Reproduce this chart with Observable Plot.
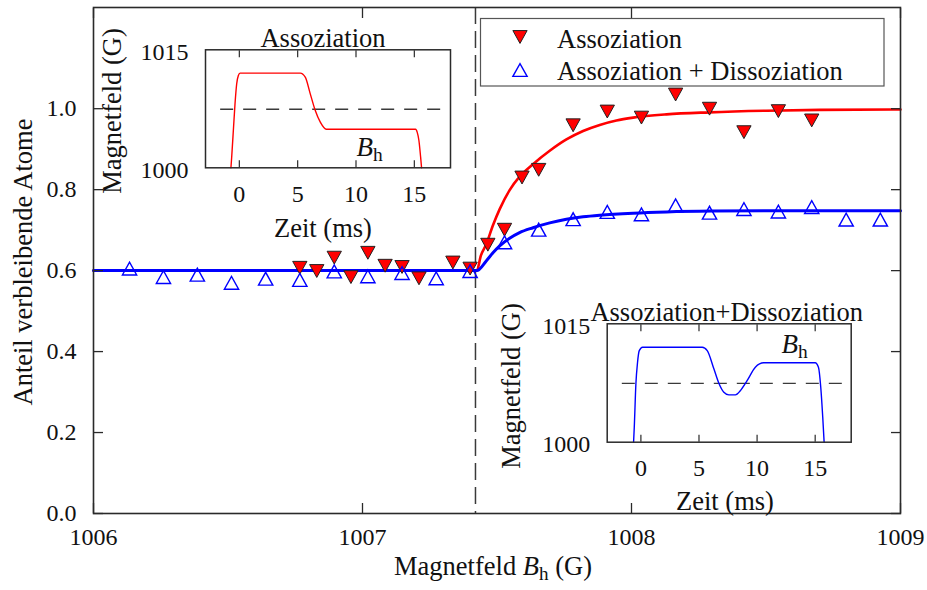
<!DOCTYPE html>
<html><head><meta charset="utf-8">
<script src="https://cdn.jsdelivr.net/npm/d3@7"></script>
<script src="https://cdn.jsdelivr.net/npm/@observablehq/plot@0.6"></script>
<style>
body{margin:0;background:#fff;}
#wrap{position:relative;width:927px;height:590px;overflow:hidden;}
#wrap svg{position:absolute;left:0;top:0;}
</style></head><body><div id="wrap"></div>
<script>
// ---------- data ----------
const xTicks = [1006, 1007, 1008, 1009];
const yTicks = [0, 0.2, 0.4, 0.6, 0.8, 1.0];
const mainDashB = [1007.42];

const redB = [1006.767, 1006.83, 1006.895, 1006.957, 1007.02, 1007.084, 1007.147, 1007.21, 1007.336, 1007.40,
  1007.466, 1007.528, 1007.593, 1007.655, 1007.783, 1007.91, 1008.037, 1008.164, 1008.29, 1008.418, 1008.546, 1008.67];
const redV = [0.607, 0.599, 0.632, 0.584, 0.644, 0.612, 0.609, 0.581, 0.620, 0.605,
  0.664, 0.701, 0.830, 0.849, 0.959, 0.993, 0.978, 1.035, 1.000, 0.942, 0.994, 0.971];

const blueB = [1006.134, 1006.26, 1006.386, 1006.513, 1006.64, 1006.767, 1006.895, 1007.02, 1007.147, 1007.274, 1007.40,
  1007.528, 1007.655, 1007.783, 1007.91, 1008.037, 1008.164, 1008.29, 1008.418, 1008.546, 1008.67, 1008.798, 1008.925];
const blueV = [0.605, 0.584, 0.590, 0.570, 0.580, 0.577, 0.598, 0.586, 0.594, 0.581, 0.599,
  0.670, 0.701, 0.727, 0.745, 0.739, 0.761, 0.743, 0.752, 0.746, 0.757, 0.726, 0.726];

const redFitB = [1006, 1007.425, 1007.44, 1007.46, 1007.485, 1007.51, 1007.547, 1007.584, 1007.634, 1007.696,
  1007.758, 1007.82, 1007.882, 1007.944, 1008.006, 1008.13, 1008.29, 1008.5, 1008.7, 1009];
const redFitV = [0.6, 0.6, 0.637, 0.665, 0.712, 0.752, 0.799, 0.832, 0.863, 0.896,
  0.924, 0.945, 0.96, 0.971, 0.978, 0.986, 0.991, 0.995, 0.997, 0.998];

const blueFitB = [1006, 1007.425, 1007.46, 1007.485, 1007.51, 1007.547, 1007.584, 1007.634, 1007.696, 1007.758,
  1007.82, 1007.882, 1008.006, 1008.13, 1008.3, 1008.6, 1009];
const blueFitV = [0.6, 0.6, 0.624, 0.644, 0.661, 0.68, 0.694, 0.706, 0.718, 0.727,
  0.733, 0.737, 0.742, 0.745, 0.747, 0.748, 0.748];

// insets
const tTicks = [0, 5, 10, 15];
const fieldTicks = [1000, 1015];
const insetResonance = [1007.45];
const dashT = [-1.6, 18.1];

const assT = [-0.72, -0.656, -0.513, -0.37, -0.226, -0.083, 0.06, 5.22, 5.65, 6.08, 6.51, 6.94, 7.45, 15.11, 15.25, 15.39, 15.54, 15.62];
const assF = [1000, 1001.35, 1004.74, 1008.14, 1010.68, 1011.73, 1012.03, 1012.03, 1011.52, 1009.4, 1007.28, 1005.8, 1004.91, 1004.91, 1004.5, 1003.5, 1001.35, 1000];

const adT = [-0.63, -0.57, -0.43, -0.29, -0.14, 0.14, 5.28, 5.71, 6.28, 6.71, 7.14, 7.57, 8.14, 8.57, 9.14, 9.85, 10.57, 15.0, 15.28, 15.48, 15.65, 15.77];
const adF = [1000, 1001.9, 1007.4, 1010.1, 1011.6, 1012.03, 1012.03, 1011.6, 1009.3, 1007.47, 1006.33, 1006.0, 1006.0, 1006.55, 1007.8, 1009.5, 1010.06, 1010.06, 1009.5, 1006.97, 1003.2, 1000];

// ---------- tables ----------
const zip = (a, b, ka, kb) => a.map((v, i) => ({[ka]: v, [kb]: b[i]}));
const redPts = zip(redB, redV, "b", "v");
const bluePts = zip(blueB, blueV, "b", "v");
const redFit = zip(redFitB, redFitV, "b", "v");
const blueFit = zip(blueFitB, blueFitV, "b", "v");
const assLine = zip(assT, assF, "t", "f");
const adLine = zip(adT, adF, "t", "f");
const dashRows = insetResonance.map(f => ({f, t1: dashT[0], t2: dashT[1]}));

// ---------- symbols ----------
function tri(down) {
  return {draw(ctx, size) {
    const s = Math.sqrt(4 * size / Math.sqrt(3));
    const h = s * 0.9;
    const yb = down ? -h / 2 : h / 2;
    ctx.moveTo(-s / 2, yb); ctx.lineTo(s / 2, yb); ctx.lineTo(0, -yb); ctx.closePath();
  }};
}
const triDown = tri(true), triUp = tri(false);
const R = 5.3;

const W = 927, H = 590;
const FONT = '"Liberation Serif", "Times New Roman", serif';
const INK = "#111";
const FR = "#2a2a2a";
const fmtInt = d3.format("d");

// ---------- main plot ----------
const main = Plot.plot({
  width: W, height: H,
  marginLeft: 93, marginRight: 27, marginTop: 7, marginBottom: 77,
  style: {fontFamily: FONT, fontSize: "24px", color: INK, background: "white"},
  x: {domain: [1006, 1009], axis: null, label: null},
  y: {domain: [0, 1.25], axis: null, label: null},
  marks: [
    Plot.ruleX(mainDashB, {stroke: "#3a3a3a", strokeWidth: 1.5, strokeDasharray: "17,7"}),
    Plot.line(redFit, {x: "b", y: "v", stroke: "#ff0000", strokeWidth: 2.6, curve: "monotone-x"}),
    Plot.line(blueFit, {x: "b", y: "v", stroke: "#0000ff", strokeWidth: 3, curve: "monotone-x"}),
    Plot.dot(redPts, {x: "b", y: "v", r: R, symbol: triDown, fill: "#ff0000", stroke: "#222", strokeWidth: 1}),
    Plot.dot(bluePts, {x: "b", y: "v", r: R, symbol: triUp, fill: "none", stroke: "#0000ff", strokeWidth: 1.4}),
    Plot.frame({stroke: FR, strokeWidth: 1.6}),
    Plot.axisX({ticks: xTicks, anchor: "bottom", tickSize: 10, dy: -10, tickFormat: () => "", label: null, stroke: FR, strokeWidth: 1.3}),
    Plot.axisX({ticks: xTicks, anchor: "top", tickSize: 10, dy: 10, tickFormat: () => "", label: null, stroke: FR, strokeWidth: 1.3}),
    Plot.axisX({ticks: xTicks, anchor: "bottom", tickSize: 0, tickPadding: 14, tickFormat: fmtInt, label: null}),
    Plot.axisY({ticks: yTicks, anchor: "left", tickSize: 10, dx: 10, tickFormat: () => "", label: null, stroke: FR, strokeWidth: 1.3}),
    Plot.axisY({ticks: yTicks, anchor: "right", tickSize: 10, dx: -10, tickFormat: () => "", label: null, stroke: FR, strokeWidth: 1.3}),
    Plot.axisY({ticks: yTicks, anchor: "left", tickSize: 0, tickPadding: 17, tickFormat: d3.format(".1f"), label: null})
  ]
});

function insetPlot(frame, line, color) {
  const [l, t, r, b] = frame;
  return Plot.plot({
    width: W, height: H,
    marginLeft: l, marginRight: W - r, marginTop: t, marginBottom: H - b,
    style: {fontFamily: FONT, fontSize: "24px", color: INK, background: "transparent"},
    x: {domain: [-2.9, 18.1], axis: null, label: null},
    y: {domain: [1000, 1015], axis: null, label: null},
    marks: [
      Plot.ruleY(dashRows, {y: "f", x1: "t1", x2: "t2", stroke: "#3a3a3a", strokeWidth: 1.4, strokeDasharray: "13,10"}),
      Plot.line(line, {x: "t", y: "f", stroke: color, strokeWidth: 1.4, curve: "monotone-x"}),
      Plot.frame({stroke: FR, strokeWidth: 1.5}),
      Plot.axisX({ticks: tTicks, anchor: "bottom", tickSize: 7, dy: -7, tickFormat: () => "", label: null, stroke: FR, strokeWidth: 1.2}),
      Plot.axisX({ticks: tTicks, anchor: "top", tickSize: 7, dy: 7, tickFormat: () => "", label: null, stroke: FR, strokeWidth: 1.2}),
      Plot.axisX({ticks: tTicks, anchor: "bottom", tickSize: 0, tickPadding: 17, tickFormat: fmtInt, label: null}),
      Plot.axisY({ticks: fieldTicks, anchor: "left", tickSize: 0, tickPadding: 17, dy: 2.5, tickFormat: fmtInt, label: null})
    ]
  });
}
const in1 = insetPlot([205, 49.3, 450, 167.3], assLine, "#ff0000");
const in2 = insetPlot([606.7, 323.3, 850.7, 441.7], adLine, "#0000ff");

const wrap = document.getElementById("wrap");
wrap.append(main, in1, in2);

// ---------- text & legend ----------
const LF = 26.5;
function txt(svg, x, y, s, opts = {}) {
  const t = d3.select(svg).append("text")
    .attr("x", x).attr("y", y)
    .attr("text-anchor", opts.anchor || "middle")
    .attr("font-family", FONT).attr("font-size", opts.size || LF).attr("fill", INK);
  if (opts.rotate) t.attr("transform", `rotate(-90, ${x}, ${y})`);
  t.text(s);
  return t;
}
function bh(svg, x, y, size) {
  const t = d3.select(svg).append("text").attr("x", x).attr("y", y)
    .attr("text-anchor", "start")
    .attr("font-family", FONT).attr("font-size", size).attr("fill", INK);
  t.append("tspan").attr("font-style", "italic").text("B");
  t.append("tspan").attr("font-size", size * 0.72).attr("dy", size * 0.18).text("h");
  return t;
}

// main labels
txt(main, 32, 262, "Anteil verbleibende Atome", {rotate: true});
{
  const t = d3.select(main).append("text").attr("x", 493).attr("y", 575)
    .attr("text-anchor", "middle").attr("font-family", FONT).attr("font-size", LF).attr("fill", INK);
  t.append("tspan").text("Magnetfeld ");
  t.append("tspan").attr("font-style", "italic").text("B");
  t.append("tspan").attr("font-size", LF * 0.72).attr("dy", LF * 0.18).text("h");
  t.append("tspan").attr("dy", -LF * 0.18).text(" (G)");
}

// legend
{
  const g = d3.select(main).append("g");
  g.append("rect").attr("x", 480.5).attr("y", 18.5).attr("width", 403.5).attr("height", 67.5)
    .attr("fill", "white").attr("stroke", "#555").attr("stroke-width", 1.2);
  g.append("path").attr("transform", "translate(520,37)")
    .attr("d", d3.symbol(triDown, R * R * Math.PI)()).attr("fill", "#ff0000").attr("stroke", "#222").attr("stroke-width", 1);
  g.append("path").attr("transform", "translate(520,70)")
    .attr("d", d3.symbol(triUp, R * R * Math.PI)()).attr("fill", "none").attr("stroke", "#0000ff").attr("stroke-width", 1.4);
  txt(main, 557, 48, "Assoziation", {anchor: "start"});
  txt(main, 557, 80, "Assoziation + Dissoziation", {anchor: "start"});
}

// inset 1 texts
txt(in1, 323, 46.5, "Assoziation");
txt(in1, 121, 111, "Magnetfeld (G)", {rotate: true});
txt(in1, 323, 236.5, "Zeit (ms)");
bh(in1, 356.5, 156, 27);

// inset 2 texts
txt(in2, 726.7, 321, "Assoziation+Dissoziation");
txt(in2, 520, 386, "Magnetfeld (G)", {rotate: true});
txt(in2, 725, 510, "Zeit (ms)");
bh(in2, 781.5, 353, 27);
</script></body></html>
